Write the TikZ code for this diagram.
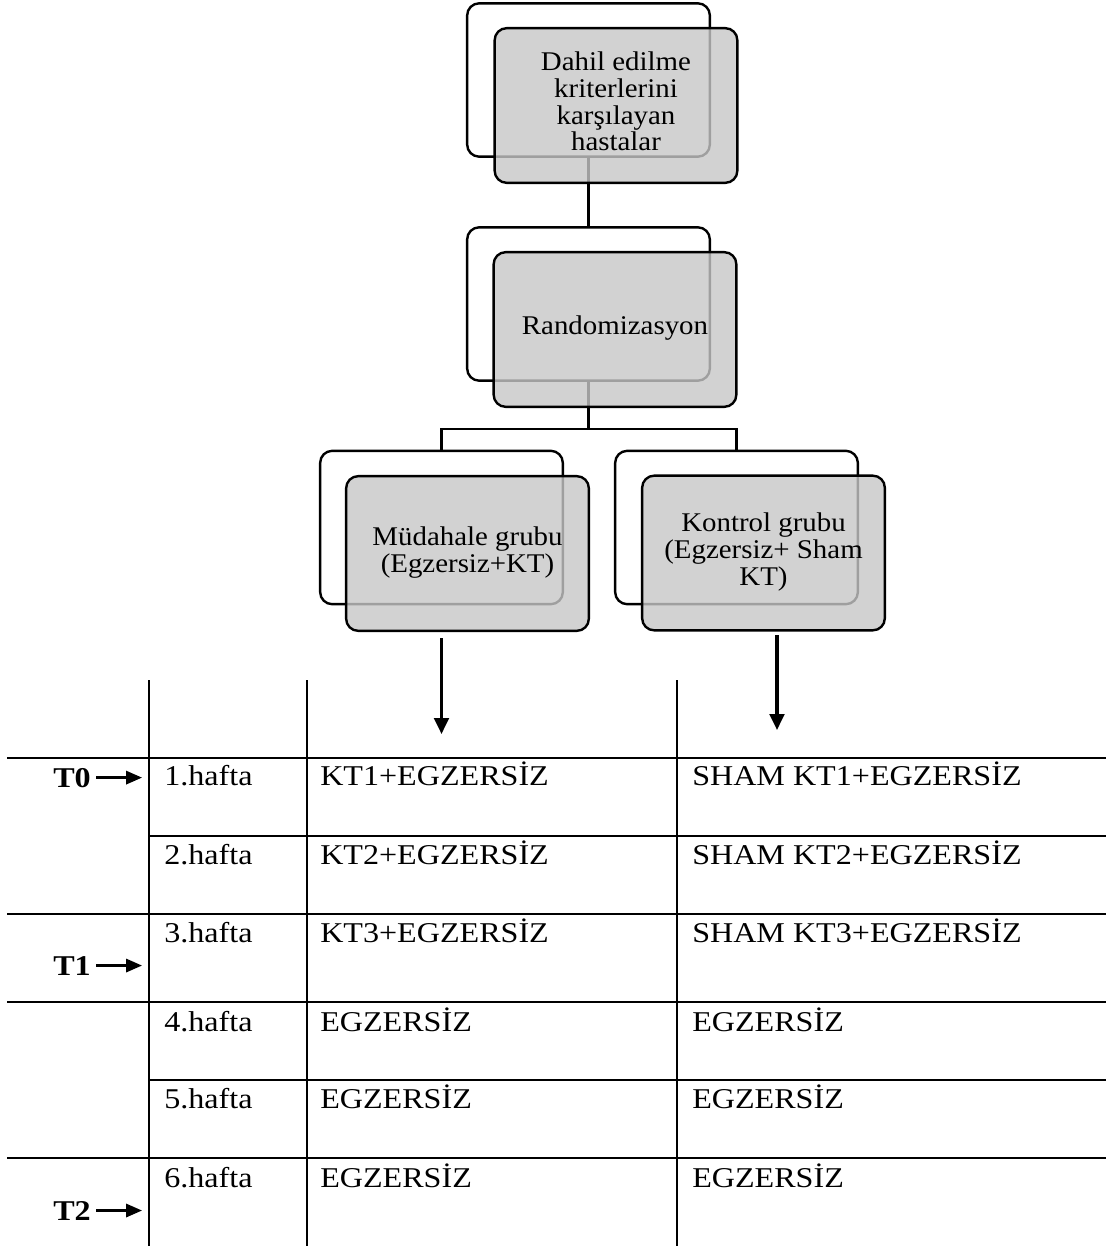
\documentclass[tikz,border=0pt]{standalone}
\usepackage{fontspec}
\setmainfont{Liberation Serif}
\usetikzlibrary{arrows.meta}
\newcommand{\tbtxt}[1]{\scalebox{1.12}[1]{#1}}
\newcommand{\bxtxt}[1]{\scalebox{1.07}[1]{\begin{tabular}{@{}c@{}}#1\end{tabular}}}
\begin{document}
\begin{tikzpicture}[x=0.75pt,y=-0.75pt,
  backbox/.style={draw=black, line width=1.8pt, rounded corners=9pt, fill=white,
    minimum width=182pt, minimum height=115pt, inner sep=0pt},
  frontbox/.style={draw=black, line width=1.8pt, rounded corners=9pt, fill=black!22,
    fill opacity=0.8, text opacity=1, minimum width=182pt, minimum height=116pt,
    inner sep=0pt, font=\fontsize{20.25}{20}\selectfont},
  link/.style={line width=1.6pt},
  downarrow/.style={line width=2.3pt, -{Triangle[width=11pt,length=12pt]}},
  tline/.style={line width=1.5pt},
  cell/.style={anchor=base west, inner sep=0pt, font=\fontsize{21.5}{24}\selectfont},
  tlab/.style={anchor=base east, inner sep=0pt, font=\fontsize{21.5}{24}\selectfont\bfseries},
  tarrow/.style={line width=1.8pt, -{Triangle[width=10pt,length=12pt]}}]
\useasboundingbox (0,0) rectangle (1106,1248);

% back boxes
\node[backbox] (b1) at (588.5,80) {};
\node[backbox] (b2) at (588.5,304) {};
\node[backbox] (b3) at (441.5,527.5) {};
\node[backbox] (b4) at (736.5,527.5) {};

% connectors
\coordinate (j) at (588.5,429);
\draw[link] (b1.south) -- (b2.north);
\draw[link] (b2.south) -- (j);
\draw[link] (b3.north) |- (j) -| (b4.north);

% front boxes
\node[frontbox] (f1) at (616,105.5) {\bxtxt{Dahil edilme\\kriterlerini\\karşılayan\\hastalar}};
\node[frontbox] (f2) at (615,329.5) {\bxtxt{Randomizasyon}};
\node[frontbox] (f3) at (467.5,553.5) {\bxtxt{Müdahale grubu\\(Egzersiz+KT)}};
\node[frontbox] (f4) at (763.5,553) {\bxtxt{Kontrol grubu\\(Egzersiz+ Sham\\KT)}};

% arrows to table
\coordinate (a3s) at (441.5,638);
\coordinate (a3e) at (441.5,734);
\coordinate (a4s) at (777,635);
\coordinate (a4e) at (777,730);
\draw[downarrow] (a3s) -- (a3e);
\draw[downarrow] (a4s) -- (a4e);

% table rules
\draw[tline] (149,680) -- (149,1246);
\draw[tline] (307,680) -- (307,1246);
\draw[tline] (677,680) -- (677,1246);
\draw[tline] (7,758) -- (1106,758);
\draw[tline] (149,836) -- (1106,836);
\draw[tline] (7,914) -- (1106,914);
\draw[tline] (7,1002) -- (1106,1002);
\draw[tline] (149,1080) -- (1106,1080);
\draw[tline] (7,1158) -- (1106,1158);

% table texts
\node[cell] (w1) at (164,785) {\tbtxt{1.hafta}};
\node[cell] (w2) at (164,864) {\tbtxt{2.hafta}};
\node[cell] (w3) at (164,942) {\tbtxt{3.hafta}};
\node[cell] (w4) at (164,1031) {\tbtxt{4.hafta}};
\node[cell] (w5) at (164,1108) {\tbtxt{5.hafta}};
\node[cell] (w6) at (164,1187) {\tbtxt{6.hafta}};

\node[cell] (m1) at (320,785) {\tbtxt{KT1+EGZERSİZ}};
\node[cell] (m2) at (320,864) {\tbtxt{KT2+EGZERSİZ}};
\node[cell] (m3) at (320,942) {\tbtxt{KT3+EGZERSİZ}};
\node[cell] (m4) at (320,1031) {\tbtxt{EGZERSİZ}};
\node[cell] (m5) at (320,1108) {\tbtxt{EGZERSİZ}};
\node[cell] (m6) at (320,1187) {\tbtxt{EGZERSİZ}};

\node[cell] (k1) at (692,785) {\tbtxt{SHAM KT1+EGZERSİZ}};
\node[cell] (k2) at (692,864) {\tbtxt{SHAM KT2+EGZERSİZ}};
\node[cell] (k3) at (692,942) {\tbtxt{SHAM KT3+EGZERSİZ}};
\node[cell] (k4) at (692,1031) {\tbtxt{EGZERSİZ}};
\node[cell] (k5) at (692,1108) {\tbtxt{EGZERSİZ}};
\node[cell] (k6) at (692,1187) {\tbtxt{EGZERSİZ}};

% time labels
\coordinate (tipx) at (142,0);
\node[tlab] (t0) at (91,787) {\tbtxt{T0}};
\node[tlab] (t1) at (91,975) {\tbtxt{T1}};
\node[tlab] (t2) at (91,1220) {\tbtxt{T2}};
\draw[tarrow] ([xshift=4pt]t0.east) -- (t0.east -| tipx);
\draw[tarrow] ([xshift=4pt]t1.east) -- (t1.east -| tipx);
\draw[tarrow] ([xshift=4pt]t2.east) -- (t2.east -| tipx);
\end{tikzpicture}
\end{document}
